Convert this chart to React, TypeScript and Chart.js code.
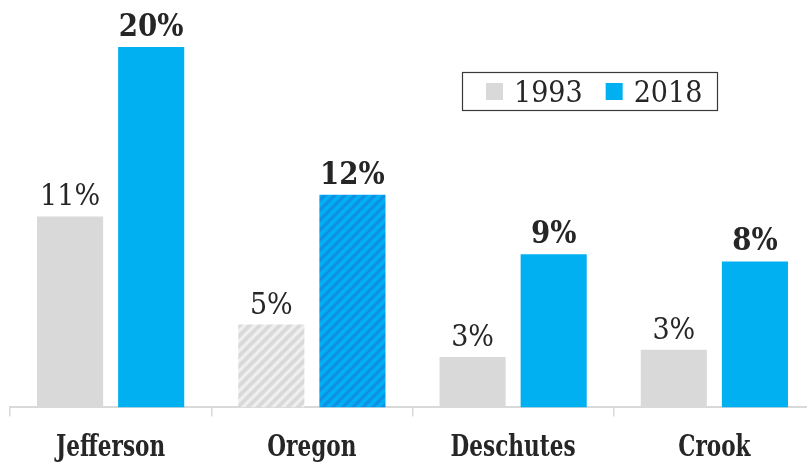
import React, { useEffect, useRef } from "react";
import { Chart, registerables } from "chart.js";

Chart.register(...registerables);

const categories = ["Jefferson", "Oregon", "Deschutes", "Crook"];
const seriesLabels = ["1993", "2018"];
const values1993 = [10.6, 4.6, 2.8, 3.2];
const values2018 = [20.0, 11.8, 8.5, 8.1];
const hatchedCategory = "Oregon";

const GRAY = "#d9d9d9";
const BLUE = "#00b0f0";
const TEXT = "#262626";
const SERIF = "'DejaVu Serif Condensed', 'DejaVu Serif', serif";

function makeHatch(base: string, stripe: string): CanvasPattern | string {
  const c = document.createElement("canvas");
  const s = 10;
  c.width = s;
  c.height = s;
  const g = c.getContext("2d");
  if (!g) return base;
  g.fillStyle = base;
  g.fillRect(0, 0, s, s);
  g.strokeStyle = stripe;
  g.lineWidth = 3.2;
  g.beginPath();
  g.moveTo(-2, s + 2);
  g.lineTo(s + 2, -2);
  g.moveTo(-2, 2);
  g.lineTo(2, -2);
  g.moveTo(s - 2, s + 2);
  g.lineTo(s + 2, s - 2);
  g.stroke();
  const p = g.createPattern(c, "repeat");
  return p || base;
}

function drawScaledText(ctx: any, txt: string, x: number, y: number, sx: number) {
  ctx.save();
  ctx.translate(x, y);
  ctx.scale(sx, 1);
  ctx.fillText(txt, 0, 0);
  ctx.restore();
}

const valueLabelPlugin = {
  id: "valueLabels",
  afterDatasetsDraw(chart: any) {
    const ctx = chart.ctx;
    ctx.save();
    chart.data.datasets.forEach((ds: any, di: number) => {
      const meta = chart.getDatasetMeta(di);
      meta.data.forEach((el: any, i: number) => {
        const v = ds.data[i] as number;
        const txt = Math.round(v) + "%";
        ctx.font = (di === 1 ? "bold 32px " : "30px ") + SERIF;
        ctx.fillStyle = TEXT;
        ctx.textAlign = "center";
        ctx.textBaseline = "alphabetic";
        drawScaledText(ctx, txt, el.x, el.y - 11, di === 1 ? 0.96 : 1);
      });
    });
    ctx.restore();
  },
};

const categoryLabelPlugin = {
  id: "categoryLabels",
  afterDraw(chart: any) {
    const ctx = chart.ctx;
    const xs = chart.scales.x;
    ctx.save();
    ctx.font = "bold 30px " + SERIF;
    ctx.fillStyle = TEXT;
    ctx.textAlign = "center";
    ctx.textBaseline = "alphabetic";
    (chart.data.labels as string[]).forEach((lab, i) => {
      drawScaledText(ctx, lab, xs.getPixelForValue(i), 456, 0.8);
    });
    ctx.restore();
  },
};

const boxLegendPlugin = {
  id: "boxLegend",
  afterDraw(chart: any) {
    const ctx = chart.ctx;
    const left = 462;
    const top = 72;
    const width = 255;
    const height = 38;
    ctx.save();
    ctx.fillStyle = "#ffffff";
    ctx.fillRect(left, top, width, height);
    ctx.strokeStyle = "#3a3a3a";
    ctx.lineWidth = 1.2;
    ctx.strokeRect(left + 0.5, top + 0.5, width, height);
    ctx.font = "30px " + SERIF;
    ctx.textBaseline = "alphabetic";
    ctx.textAlign = "left";
    let x = left + 24;
    const cy = top + height / 2 + 1;
    chart.data.datasets.forEach((ds: any, di: number) => {
      ctx.fillStyle = di === 0 ? GRAY : BLUE;
      ctx.fillRect(x, cy - 9, 17, 17);
      x += 28;
      ctx.fillStyle = TEXT;
      ctx.fillText(ds.label, x, top + 30);
      x += ctx.measureText(ds.label).width + 23;
    });
    ctx.restore();
  },
};

export default function App() {
  const ref = useRef<HTMLCanvasElement | null>(null);
  useEffect(() => {
    if (!ref.current) return;
    const grayHatch = makeHatch(GRAY, "#efefef");
    const blueHatch = makeHatch(BLUE, "#0f8fe6");
    const chart = new Chart(ref.current, {
      type: "bar",
      data: {
        labels: categories,
        datasets: [
          {
            label: seriesLabels[0],
            data: values1993,
            backgroundColor: categories.map((c) => (c === hatchedCategory ? grayHatch : GRAY)) as any,
            categoryPercentage: 0.806,
            barPercentage: 0.815,
          },
          {
            label: seriesLabels[1],
            data: values2018,
            backgroundColor: categories.map((c) => (c === hatchedCategory ? blueHatch : BLUE)) as any,
            categoryPercentage: 0.806,
            barPercentage: 0.815,
          },
        ],
      },
      options: {
        responsive: false,
        animation: false,
        layout: { padding: { left: 10, right: 0, top: 11, bottom: 6 } },
        plugins: {
          legend: { display: false },
          tooltip: { enabled: false },
        },
        scales: {
          x: {
            grid: {
              offset: true,
              drawOnChartArea: false,
              color: GRAY,
              tickLength: 9,
              lineWidth: 1.5,
            },
            border: { color: GRAY, width: 2 },
            ticks: {
              color: "rgba(0,0,0,0)",
              font: { family: SERIF, size: 23, weight: "bold" },
              padding: 6,
            },
          },
          y: {
            display: false,
            min: 0,
            max: 22,
          },
        },
      },
      plugins: [valueLabelPlugin, categoryLabelPlugin, boxLegendPlugin],
    });
    return () => chart.destroy();
  }, []);
  return (
    <div style={{ position: "fixed", left: 0, top: 0, width: 807, height: 462, overflow: "hidden", background: "#fff" }}>
      <canvas ref={ref} width={815} height={462} style={{ display: "block" }} />
    </div>
  );
}
